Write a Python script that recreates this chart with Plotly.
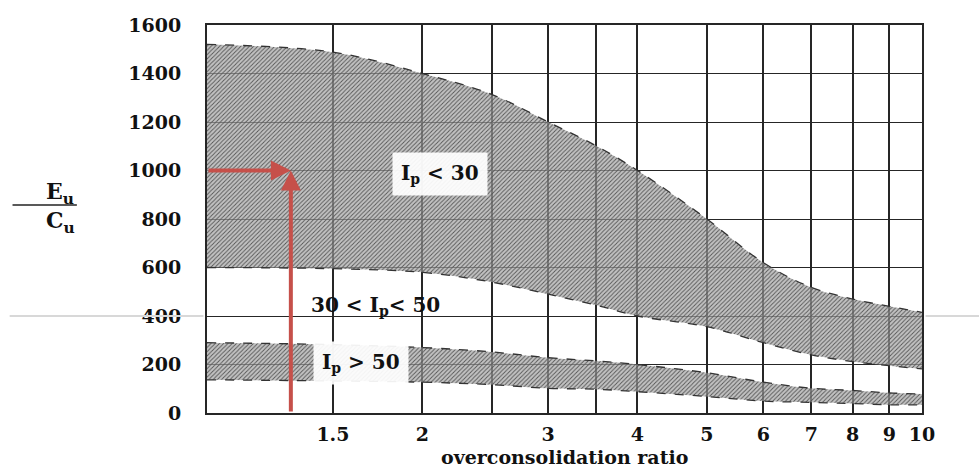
import numpy as np
import plotly.graph_objects as go

# ---------------- data ----------------
ocr = [1, 1.5, 2, 2.5, 3, 3.5, 4, 5, 6, 7, 8, 9, 10]
ip30_upper = [1520, 1488, 1400, 1314, 1200, 1102, 1000, 800, 620, 518, 470, 440, 415]
ip30_lower = [600, 595, 580, 540, 490, 445, 400, 356, 290, 240, 212, 195, 182]
ip50_upper = [290, 282, 270, 252, 228, 215, 200, 166, 127, 102, 93, 83, 78]
ip50_lower = [137, 132, 127, 117, 102, 98, 88, 68, 49, 44, 39, 34, 34]

x_tickvals = [1.5, 2, 2.5, 3, 3.5, 4, 5, 6, 7, 8, 9, 10]
x_ticktext = ["1.5", "2", "", "3", "", "4", "5", "6", "7", "8", "9", "10"]
y_tickvals = [0, 200, 400, 600, 800, 1000, 1200, 1400, 1600]
y_ticktext = ["0", "200", "400", "600", "800", "1000", "1200", "1400", "1600"]

# red arrows (example reading)
arrow_ocr = 1.31
arrow_ratio = 1000
arrow_start_ocr = 1.0
arrow_start_ratio = 0

# band labels
band_labels = ["I<sub>p</sub> &lt; 30", "30 &lt; I<sub>p</sub>&lt; 50", "I<sub>p</sub> &gt; 50"]
band_label_x = [2.12, 1.72, 1.64]
band_label_y = [985, 440, 205]
band_label_bg = ["rgba(255,255,255,0.93)", "rgba(255,255,255,0)", "rgba(255,255,255,0.93)"]

# ---------------- figure ----------------
FONT = "DejaVu Serif"
pattern = dict(shape="/", fgcolor="#555555", bgcolor="rgba(165,165,165,0.68)",
               size=3, solidity=0.3, fillmode="replace")
edge = dict(color="#333333", width=1.3, dash="dash")

fig = go.Figure()
for up, lo in [(ip30_upper, ip30_lower), (ip50_upper, ip50_lower)]:
    fig.add_trace(go.Scatter(x=ocr, y=up, mode="lines", line=edge, line_shape="spline",
                             showlegend=False, hoverinfo="skip"))
    fig.add_trace(go.Scatter(x=ocr, y=lo, mode="lines", line=edge, line_shape="spline",
                             fill="tonexty", fillpattern=pattern,
                             showlegend=False, hoverinfo="skip"))

annotations = []
for t, lx, ly, bg in zip(band_labels, band_label_x, band_label_y, band_label_bg):
    annotations.append(dict(x=np.log10(lx), y=ly, xref="x", yref="y", text=t,
                            showarrow=False, bgcolor=bg, borderpad=8,
                            font=dict(family=FONT, size=20, color="#111", weight="bold")))

arrow_style = dict(xref="x", yref="y", axref="x", ayref="y", text="", showarrow=True,
                   arrowcolor="#C6504A", arrowwidth=4, arrowhead=2, arrowsize=1.0)
annotations.append(dict(x=np.log10(arrow_ocr), y=arrow_ratio,
                        ax=np.log10(arrow_ocr), ay=arrow_start_ratio, **arrow_style))
annotations.append(dict(x=np.log10(arrow_ocr), y=arrow_ratio,
                        ax=np.log10(arrow_start_ocr), ay=arrow_ratio, **arrow_style))

# axis titles
annotations.append(dict(x=0.5, y=-0.113, xref="paper", yref="paper", yanchor="middle",
                        text="overconsolidation ratio", showarrow=False,
                        font=dict(family=FONT, size=19, color="#111", weight="bold")))
annotations.append(dict(x=-0.228, y=0.567, xref="paper", yref="paper", yanchor="middle",
                        text="E<sub>u</sub>", showarrow=False,
                        font=dict(family=FONT, size=22, color="#111", weight="bold")))
annotations.append(dict(x=-0.228, y=0.493, xref="paper", yref="paper", yanchor="middle",
                        text="C<sub>u</sub>", showarrow=False,
                        font=dict(family=FONT, size=22, color="#111", weight="bold")))

shapes = [
    dict(type="line", xref="paper", yref="paper", x0=-0.272, x1=-0.182, y0=0.536, y1=0.536,
         line=dict(color="#222", width=1.5)),
    dict(type="line", xref="paper", yref="paper", x0=-0.276, x1=-0.005, y0=0.25, y1=0.25,
         line=dict(color="#d8d8d8", width=2)),
    dict(type="line", xref="paper", yref="paper", x0=1.005, x1=1.08, y0=0.25, y1=0.25,
         line=dict(color="#d8d8d8", width=2)),
]

fig.update_layout(
    width=979, height=471,
    margin=dict(l=207, r=57, t=25, b=58),
    paper_bgcolor="white", plot_bgcolor="white",
    annotations=annotations, shapes=shapes,
    showlegend=False,
)
fig.update_xaxes(type="log", range=[0, 1], tickvals=x_tickvals, ticktext=x_ticktext,
                 showgrid=True, gridcolor="#262626", gridwidth=1.6,
                 showline=True, linecolor="#262626", linewidth=2, mirror=True,
                 ticks="", ticklabelstandoff=3, zeroline=False,
                 tickfont=dict(family=FONT, size=19, color="#111", weight="bold"))
fig.update_yaxes(range=[0, 1600], tickvals=y_tickvals, ticktext=y_ticktext,
                 showgrid=True, gridcolor="#262626", gridwidth=1.4,
                 showline=True, linecolor="#262626", linewidth=2, mirror=True,
                 ticks="", ticklabelstandoff=20, zeroline=False,
                 tickfont=dict(family=FONT, size=19, color="#111", weight="bold"))

fig.write_html("out.html")
